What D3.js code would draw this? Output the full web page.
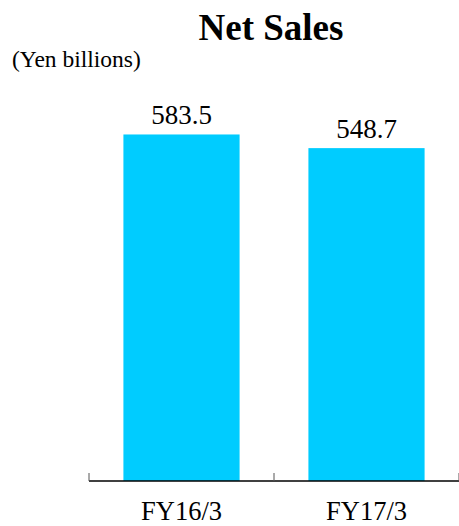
<!DOCTYPE html>
<html>
<head>
<meta charset="utf-8">
<script src="https://cdn.jsdelivr.net/npm/d3@7"></script>
<style>
  html, body { margin: 0; padding: 0; background: #fff; }
  svg { display: block; }
</style>
</head>
<body>
<svg id="chart" width="459" height="526"></svg>
<script>
// Net sales by fiscal year (Yen billions)
const categories = ["FY16/3", "FY17/3"];
const netSales = [583.5, 548.7];
const title = "Net Sales";
const unitLabel = "(Yen billions)";

const FONT = "'Liberation Serif', 'Times New Roman', serif";
const svg = d3.select("#chart");
const baseY = 481;

const x = d3.scaleBand().domain(categories).range([89, 459]).padding(0);
const y = d3.scaleLinear().domain([-300, 600]).range([baseY, 128]);

const barInset = 0.186;   // fraction of the band left empty on each side
const barFrac = 1 - 2 * barInset;

// bars
svg.selectAll("rect.bar")
  .data(categories)
  .join("rect")
  .attr("class", "bar")
  .attr("x", d => x(d) + x.bandwidth() * barInset)
  .attr("width", x.bandwidth() * barFrac)
  .attr("y", (d, i) => y(netSales[i]))
  .attr("height", (d, i) => baseY - y(netSales[i]))
  .attr("fill", "#00CCFF");

// value labels
svg.selectAll("text.value")
  .data(categories)
  .join("text")
  .attr("class", "value")
  .attr("x", d => x(d) + x.bandwidth() / 2)
  .attr("y", (d, i) => y(netSales[i]) - 10)
  .attr("text-anchor", "middle")
  .style("font-family", FONT)
  .style("font-size", "27px")
  .attr("fill", "#000")
  .text((d, i) => netSales[i].toFixed(1));

// category axis
const axis = d3.axisBottom(x).tickSize(0).tickPadding(0);
const g = svg.append("g").attr("transform", `translate(0,${baseY})`).call(axis);
g.select(".domain").remove();
g.selectAll(".tick text")
  .attr("dy", 0)
  .attr("y", 39)
  .style("font-family", FONT)
  .style("font-size", "26.5px")
  .attr("fill", "#000");

svg.append("line")
  .attr("x1", 89).attr("x2", 459)
  .attr("y1", baseY).attr("y2", baseY)
  .attr("stroke", "#000").attr("stroke-width", 1.5);

// tick marks at the band boundaries
const boundaries = categories.map(c => x(c)).concat([x.range()[1]]);
svg.selectAll("line.tick-mark")
  .data(boundaries)
  .join("line")
  .attr("class", "tick-mark")
  .attr("x1", d => d).attr("x2", d => d)
  .attr("y1", baseY - 8).attr("y2", baseY)
  .attr("stroke", "#555").attr("stroke-width", 1);

// title and unit
svg.append("text")
  .attr("x", 271).attr("y", 40)
  .attr("text-anchor", "middle")
  .style("font-family", FONT)
  .style("font-size", "37px")
  .style("font-weight", "bold")
  .attr("fill", "#000")
  .text(title);

svg.append("text")
  .attr("x", 12).attr("y", 67)
  .style("font-family", FONT)
  .style("font-size", "23.5px")
  .attr("fill", "#000")
  .text(unitLabel);
</script>
</body>
</html>
